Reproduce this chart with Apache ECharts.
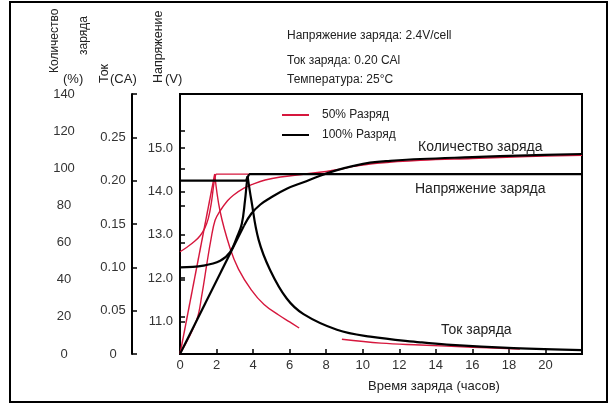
<!DOCTYPE html>
<html style="height: 100%">
<head>
<meta charset="utf-8">
<script src="https://cdn.jsdelivr.net/npm/echarts@6/dist/echarts.min.js"></script>
</head>
<body style="height: 100%; margin: 0; background: #fff">
<div id="container" style="width: 609px; height: 404px;"></div>
<script>
// --- данные (время в часах) ---
var xTicks = [0, 2, 4, 6, 8, 10, 12, 14, 16, 18, 20];
var voltTicks = [11, 12, 13, 14, 15];

// 100% разряд
var blackChargeLine = [[0, 0], [3.5, 69]];
var blackCharge = [[3.5, 69], [3.9, 75.5], [4.4, 80.5], [4.93, 84], [5.84, 89], [6.76, 92.5], [7.67, 96], [8.59, 99],
    [9.5, 101.3], [10.4, 103], [11.5, 104], [13.15, 105], [16, 106], [19, 107], [22, 107.7]];
var blackVolt = [[0, 12.25], [1.28, 12.29], [2.2, 12.4], [2.74, 12.6], [3.1, 12.93], [3.38, 13.25], [3.56, 13.8], [3.69, 14.3], [3.78, 14.4]];
var blackVoltFlat = [[3.78, 14.4], [22, 14.4]];
var blackCurrentFlat = [[0, 0.2], [3.62, 0.2], [3.7, 0.205]];
var blackCurrent = [[3.7, 0.205], [3.9, 0.178], [4.3, 0.132], [4.93, 0.097], [5.84, 0.064], [6.76, 0.046], [8.59, 0.028],
    [10.41, 0.020], [13.15, 0.0135], [14.6, 0.0108], [18.25, 0.0068], [22, 0.0045]];

// 50% разряд
var redCharge = [[0, 0], [0.9, 18], [1.2, 32], [1.46, 48], [1.7, 62], [1.92, 72], [2.19, 77], [2.6, 82.5], [2.92, 85.5],
    [3.5, 89.3], [4.0, 91.5], [4.66, 93.7], [5.5, 95.3], [6.76, 96.8], [8.0, 98.3], [8.59, 99.2], [9.5, 101],
    [10.78, 102.7], [13.15, 104.3], [16, 105.3], [19, 106.3], [22, 107]];
var redVolt = [[0, 12.61], [0.4, 12.72], [0.8, 12.85], [1.1, 12.98], [1.35, 13.15], [1.55, 13.38], [1.72, 13.75], [1.86, 14.2], [1.96, 14.4]];
var redVoltFlat = [[1.96, 14.4], [22, 14.4]];
var redCurrentRise = [[0, 0], [1.9, 0.2077]];
var redCurrentA = [[1.9, 0.2077], [2.19, 0.165], [2.74, 0.122], [3.2, 0.098], [3.9, 0.074], [4.6, 0.057], [5.4, 0.045], [6.0, 0.037], [6.52, 0.030]];
var redCurrentB = [[8.86, 0.017], [11, 0.0125], [13.15, 0.0104], [16, 0.0078], [18.6, 0.0058]];

var RED = '#d6173d';
var FONT = 'Liberation Sans, Arial, sans-serif';

function mk(name, color, width, axis, data, smooth) {
    return {
        name: name, type: 'line', yAxisIndex: axis, data: data,
        symbol: 'none', smooth: smooth ? 0.4 : false,
        lineStyle: { color: color, width: width }, itemStyle: { color: color },
        z: 2
    };
}
function rk(axis, data, smooth) { return mk('50% Разряд', RED, 1.4, axis, data, smooth); }
function bk(axis, data, smooth) { return mk('100% Разряд', '#000', 2.2, axis, data, smooth); }

function txt(x, y, s, size, rot) {
    return {
        type: 'text', x: x, y: y, rotation: rot || 0,
        style: { text: s, fill: '#222', font: size + 'px ' + FONT, textAlign: 'left', textVerticalAlign: 'middle' }
    };
}

var myChart = echarts.init(document.getElementById('container'));
var option = {
    animation: false,
    textStyle: { fontFamily: FONT },
    grid: { left: 180, right: 27, top: 94, bottom: 50, show: true, borderColor: '#000', borderWidth: 2 },
    legend: {
        orient: 'vertical', left: 277, top: 103, itemWidth: 27, itemHeight: 2, itemGap: 6,
        icon: 'rect',
        data: ['50% Разряд', '100% Разряд'],
        textStyle: { fontSize: 12, color: '#222', padding: [0, 0, 0, 8], lineHeight: 14 }
    },
    xAxis: {
        type: 'value', min: 0, max: 22, interval: 2,
        axisLine: { lineStyle: { color: '#000', width: 2 } },
        axisTick: { inside: true, length: 5, lineStyle: { color: '#000', width: 1.5 } },
        axisLabel: { color: '#333', fontSize: 13, margin: 5,
            formatter: function (v) { return xTicks.indexOf(v) >= 0 ? String(v) : ''; } },
        splitLine: { show: false }
    },
    yAxis: [{
        type: 'value', position: 'left', offset: 98, min: 0, max: 140, interval: 20,
        axisLine: { show: true, lineStyle: { color: '#000', width: 2 } },
        axisTick: { show: true, inside: true, length: 5, lineStyle: { color: '#000', width: 1.5 } },
        axisLabel: { color: '#333', fontSize: 13, margin: 18, align: 'center' },
        splitLine: { show: false }
    }, {
        type: 'value', position: 'left', offset: 48, min: 0, max: 0.3, interval: 0.05,
        axisLine: { show: true, lineStyle: { color: '#000', width: 2 } },
        axisTick: { show: true, inside: true, length: 5, lineStyle: { color: '#000', width: 1.5 } },
        axisLabel: { color: '#333', fontSize: 13, margin: 19, align: 'center',
            formatter: function (v) { if (v === 0) return '0'; if (v > 0.29) return ''; return v.toFixed(2); } },
        splitLine: { show: false }
    }, {
        type: 'value', position: 'left', offset: 0, min: 10.25, max: 16.25,
        axisLine: { show: true, lineStyle: { color: '#000', width: 2 } },
        axisTick: { show: true, inside: true, length: 5, customValues: voltTicks, lineStyle: { color: '#000', width: 1.5 } },
        axisLabel: { color: '#333', fontSize: 13, margin: 7, customValues: voltTicks,
            formatter: function (v) { return v.toFixed(1); } },
        splitLine: { show: false }
    }],
    graphic: [
        txt(55, 73, 'Количество', 12, Math.PI / 2),
        txt(84, 55, 'заряда', 12, Math.PI / 2),
        txt(63, 79, '(%)', 13),
        txt(105, 83, 'Ток', 12.5, Math.PI / 2),
        txt(110, 79, '(CA)', 13),
        txt(159, 83, 'Напряжение', 12.5, Math.PI / 2),
        txt(165, 79, '(V)', 13),
        txt(287, 36, 'Напряжение заряда: 2.4V/cell', 12),
        txt(287, 61, 'Ток заряда: 0.20 CAl', 12),
        txt(287, 80, 'Температура: 25°C', 12),
        txt(418, 147, 'Количество заряда', 14),
        txt(415, 189, 'Напряжение заряда', 14),
        txt(441, 330, 'Ток заряда', 14),
        txt(368, 386, 'Время заряда (часов)', 13),
        { type: 'rect', shape: { x: 10, y: 2, width: 597, height: 400 },
          style: { fill: 'none', stroke: '#000', lineWidth: 2 }, silent: true }
    ],
    series: [
        rk(0, redCharge, true),
        rk(2, redVolt, true),
        rk(2, redVoltFlat, false),
        rk(1, redCurrentRise, false),
        rk(1, redCurrentA, true),
        rk(1, redCurrentB, true),
        bk(0, blackChargeLine, false),
        bk(0, blackCharge, true),
        bk(2, blackVolt, true),
        bk(2, blackVoltFlat, false),
        bk(1, blackCurrentFlat, false),
        bk(1, blackCurrent, true)
    ]
};
myChart.setOption(option);
</script>
</body>
</html>
